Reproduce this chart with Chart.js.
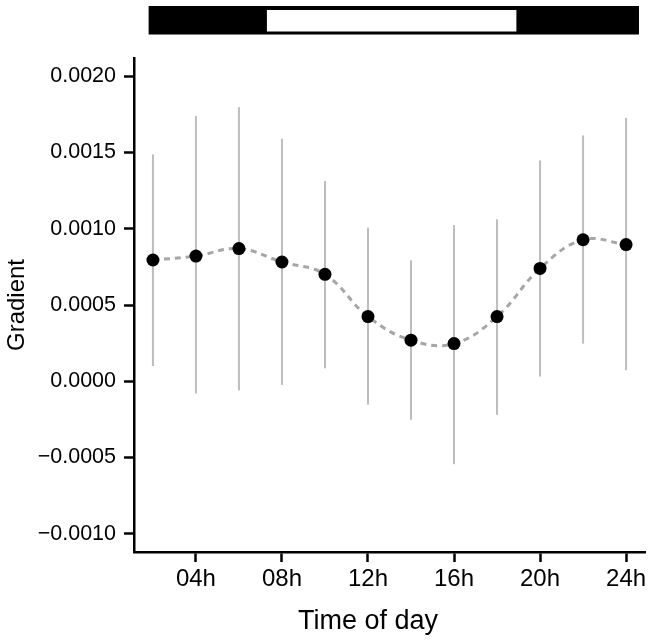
<!DOCTYPE html>
<html>
<head>
<meta charset="utf-8">
<script src="https://cdn.jsdelivr.net/npm/chart.js@4/dist/chart.umd.min.js"></script>
<style>
  html, body { margin: 0; padding: 0; background: #fff; }
  #wrap { width: 664px; height: 642px; position: relative; }
</style>
</head>
<body>
<div id="wrap"><canvas id="c" width="664" height="642"></canvas></div>
<script>
// ---- data ----
const hours = [2, 4, 6, 8, 10, 12, 14, 16, 18, 20, 22, 24];
const gradient = [0.000795, 0.000821, 0.000870, 0.000782, 0.000701, 0.000424, 0.000269, 0.000247, 0.000424, 0.000740, 0.000928, 0.000896];
const upper = [0.001488, 0.001739, 0.001797, 0.001590, 0.001313, 0.001007, 0.000793, 0.001024, 0.001062, 0.001448, 0.001612, 0.001728];
const lower = [0.000100, -0.000080, -0.000059, -0.000024, 0.000085, -0.000153, -0.000253, -0.000544, -0.000221, 0.000031, 0.000247, 0.000072];
const xTicks = [4, 8, 12, 16, 20, 24];
const xTickLabels = ['04h', '08h', '12h', '16h', '20h', '24h'];
const yTicks = [-0.001, -0.0005, 0, 0.0005, 0.001, 0.0015, 0.002];
const yTickLabels = ['\u22120.0010', '\u22120.0005', '0.0000', '0.0005', '0.0010', '0.0015', '0.0020'];
const xTitle = 'Time of day';
const yTitle = 'Gradient';
// light/dark bar: dark from, lights on, lights off, dark until (hours)
const lightDarkHours = [1.8, 7.3, 18.9, 24.6];

const FONT = '"Liberation Sans Narrow", "Liberation Sans", Arial, sans-serif';
Chart.defaults.font.family = FONT;
Chart.defaults.color = '#000';

const errorBars = {
  id: 'errorBars',
  beforeDatasetsDraw(chart) {
    const { ctx, scales: { x, y } } = chart;
    ctx.save();
    ctx.strokeStyle = '#bdbdbd';
    ctx.lineWidth = 2;
    hours.forEach((h, i) => {
      const px = x.getPixelForValue(h);
      ctx.beginPath();
      ctx.moveTo(px, y.getPixelForValue(lower[i]));
      ctx.lineTo(px, y.getPixelForValue(upper[i]));
      ctx.stroke();
    });
    ctx.restore();
  }
};

const extras = {
  id: 'extras',
  afterDraw(chart) {
    const { ctx, scales: { x } } = chart;
    const p = lightDarkHours.map(v => x.getPixelForValue(v));
    ctx.save();
    ctx.fillStyle = '#000';
    ctx.fillRect(p[0], 6, p[3] - p[0], 28.5);
    ctx.fillStyle = '#fff';
    ctx.fillRect(p[1], 10, p[2] - p[1], 21.5);
    // x axis title, centred under 12h as in the reference
    ctx.fillStyle = '#000';
    ctx.font = '27px ' + FONT;
    ctx.textAlign = 'center';
    ctx.textBaseline = 'alphabetic';
    ctx.fillText(xTitle, x.getPixelForValue(12), 629);
    ctx.restore();
  }
};

new Chart(document.getElementById('c'), {
  type: 'line',
  data: {
    datasets: [{
      data: hours.map((h, i) => ({ x: h, y: gradient[i] })),
      borderColor: '#a6a6a6',
      borderWidth: 3,
      borderDash: [6, 5],
      tension: 0.4,
      pointRadius: 6.5,
      pointBackgroundColor: '#000',
      pointBorderWidth: 0,
      fill: false
    }]
  },
  options: {
    responsive: false,
    animation: false,
    layout: { padding: { top: 58, right: 19, left: 0, bottom: 0 } },
    plugins: { legend: { display: false }, tooltip: { enabled: false } },
    scales: {
      x: {
        type: 'linear',
        min: 1.12,
        max: 24.88,
        afterBuildTicks: s => { s.ticks = xTicks.map(v => ({ value: v })); },
        afterFit: s => { s.height = 90; },
        ticks: {
          font: { size: 24 },
          padding: 3,
          maxRotation: 0,
          autoSkip: false,
          callback: v => xTickLabels[xTicks.indexOf(v)]
        },
        grid: { drawOnChartArea: false, drawTicks: true, tickLength: 10, tickWidth: 2.5, tickColor: '#000' },
        border: { display: true, color: '#000', width: 2.5 },
        title: { display: false }
      },
      y: {
        type: 'linear',
        min: -0.00112,
        max: 0.00212,
        afterBuildTicks: s => { s.ticks = yTicks.map(v => ({ value: v })); },
        afterFit: s => { s.width = 134; },
        ticks: {
          font: { size: 21.5 },
          padding: 8,
          autoSkip: false,
          callback: v => yTickLabels[yTicks.indexOf(v)]
        },
        grid: { drawOnChartArea: false, drawTicks: true, tickLength: 10, tickWidth: 2.5, tickColor: '#000' },
        border: { display: true, color: '#000', width: 2.5 },
        title: { display: true, text: yTitle, font: { size: 24 }, padding: { top: 3, bottom: 0 } }
      }
    }
  },
  plugins: [errorBars, extras]
});
</script>
</body>
</html>
